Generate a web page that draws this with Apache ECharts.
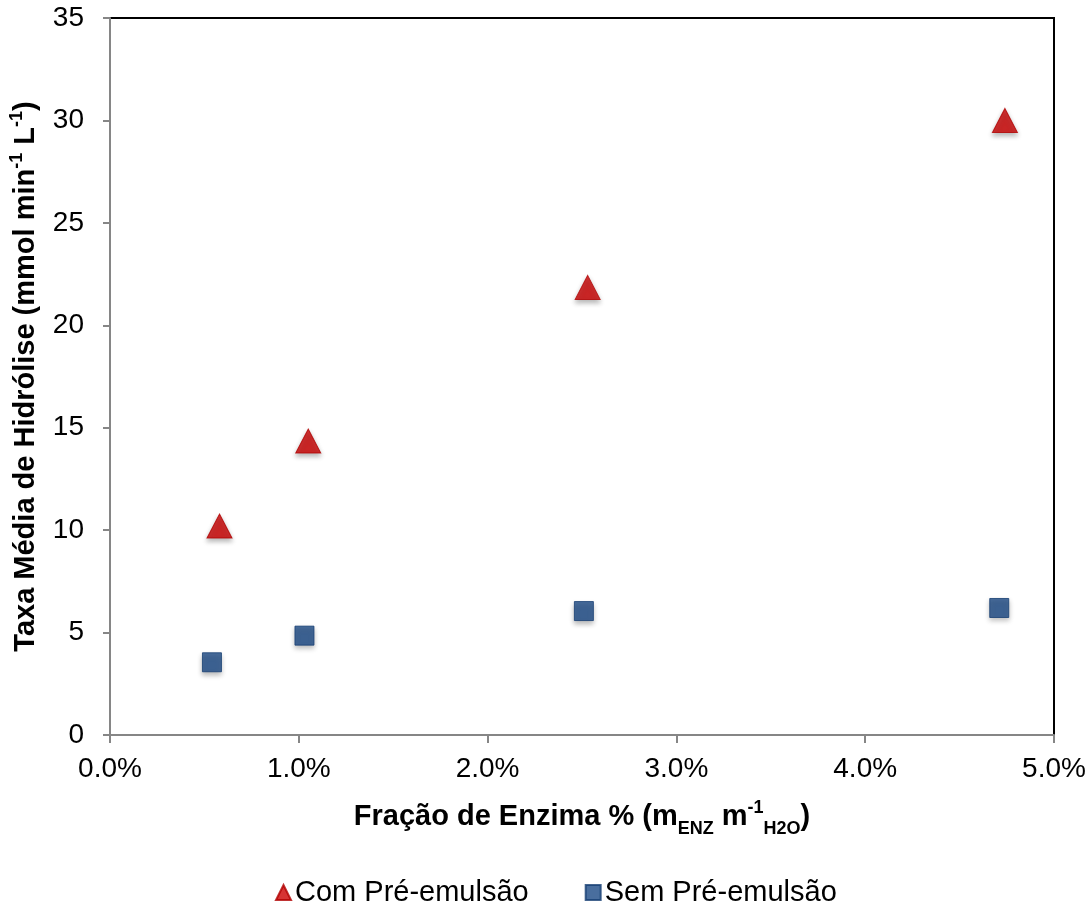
<!DOCTYPE html>
<html>
<head>
<meta charset="utf-8">
<script src="https://cdn.jsdelivr.net/npm/echarts@6/dist/echarts.min.js"></script>
<style>
  html, body { margin: 0; padding: 0; background: #fff; }
  #chart { width: 1091px; height: 910px; }
</style>
</head>
<body>
<div id="chart"></div>
<script>
// Enzyme fraction (% m/m water) and mean hydrolysis rate (mmol min-1 L-1)
const seriesNames = ['Com Pré-emulsão', 'Sem Pré-emulsão'];
const comPreX = [0.58, 1.05, 2.53, 4.74];
const comPreY = [10.2, 14.35, 21.85, 30.0];
const semPreX = [0.54, 1.03, 2.51, 4.71];
const semPreY = [3.55, 4.85, 6.05, 6.2];
const xTicks = [0, 1, 2, 3, 4, 5];   // percent
const yTicks = [0, 5, 10, 15, 20, 25, 30, 35];

const pair = (xs, ys) => xs.map((x, i) => [x, ys[i]]);

const FONT = '"Liberation Sans", Arial, sans-serif';
const AXIS_GRAY = '#868686';
const small = (align, pad) => ({
  fontSize: 18, fontWeight: 'bold', color: '#000', fontFamily: FONT,
  verticalAlign: align, padding: pad
});

const chart = echarts.init(document.getElementById('chart'));
chart.setOption({
  animation: false,
  backgroundColor: '#ffffff',
  textStyle: { fontFamily: FONT },
  grid: {
    left: 109, right: 37, top: 18, bottom: 175,
    show: true, borderColor: '#000000', borderWidth: 2, backgroundColor: 'transparent'
  },
  xAxis: {
    type: 'value',
    min: xTicks[0], max: xTicks[xTicks.length - 1], interval: 1,
    axisLine: { show: true, lineStyle: { color: AXIS_GRAY, width: 2 } },
    axisTick: { show: true, inside: false, length: 8, lineStyle: { color: AXIS_GRAY, width: 2 } },
    splitLine: { show: false },
    axisLabel: {
      margin: 20, fontSize: 28, color: '#000', fontFamily: FONT,
      formatter: v => v.toFixed(1) + '%'
    },
    name: 'Fração de Enzima % (m{sub|ENZ} m{sup|-1}{sub|H2O})',
    nameLocation: 'middle',
    nameGap: 67,
    nameTextStyle: {
      fontSize: 29, fontWeight: 'bold', color: '#000', fontFamily: FONT,
      rich: {
        sub: small('bottom', [0, 0, -7, 0]),
        sup: small('top', [-3, 0, 0, 0])
      }
    }
  },
  yAxis: {
    type: 'value',
    min: yTicks[0], max: yTicks[yTicks.length - 1], interval: 5,
    axisLine: { show: true, lineStyle: { color: AXIS_GRAY, width: 2 } },
    axisTick: { show: true, inside: false, length: 7, lineStyle: { color: AXIS_GRAY, width: 2 } },
    splitLine: { show: false },
    axisLabel: { margin: 26, fontSize: 28, color: '#000', fontFamily: FONT },
    name: 'Taxa Média de Hidrólise (mmol min{sup|-1} L{sup|-1})',
    nameLocation: 'middle',
    nameGap: 70,
    nameTextStyle: {
      fontSize: 29, fontWeight: 'bold', color: '#000', fontFamily: FONT,
      rich: {
        sup: small('top', [-3, 0, 0, 0])
      }
    }
  },
  legend: {
    bottom: -2,
    left: 270,
    itemWidth: 15, itemHeight: 15,
    itemGap: 56,
    textStyle: { fontSize: 29, color: '#000', fontFamily: FONT, padding: [0, 0, 0, -1] },
    data: seriesNames
  },
  series: [
    {
      name: seriesNames[0],
      type: 'scatter',
      symbol: 'triangle',
      symbolSize: [25, 24],
      itemStyle: {
        color: '#CC0000', borderColor: '#B00000', borderWidth: 1,
        shadowBlur: 5, shadowOffsetY: 3, shadowColor: 'rgba(0,0,0,0.35)'
      },
      data: pair(comPreX, comPreY)
    },
    {
      name: seriesNames[1],
      type: 'scatter',
      symbol: 'rect',
      symbolSize: 19,
      itemStyle: {
        color: '#1B4A86', borderColor: '#173F73', borderWidth: 1,
        shadowBlur: 5, shadowOffsetY: 3, shadowColor: 'rgba(0,0,0,0.35)'
      },
      data: pair(semPreX, semPreY)
    }
  ]
});
</script>
</body>
</html>
